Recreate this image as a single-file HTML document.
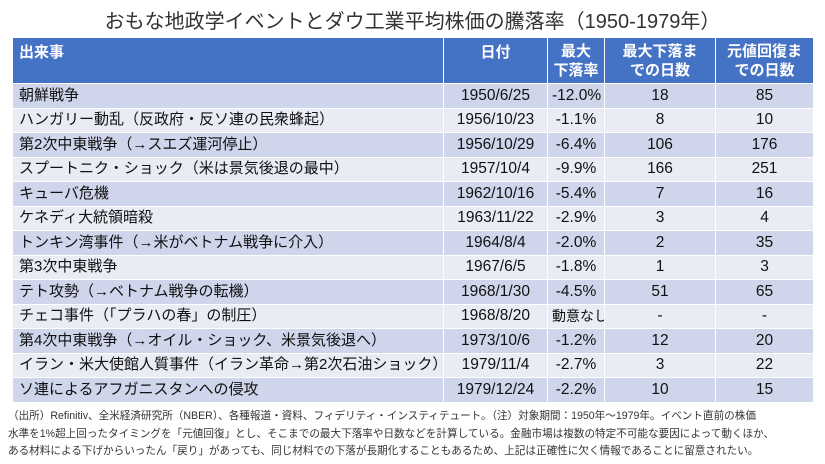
<!DOCTYPE html>
<html><head><meta charset="utf-8"><style>
body{margin:0;background:#fff;width:825px;height:464px;overflow:hidden;font-family:"Liberation Sans","Noto Sans CJK JP",sans-serif;}
.title{position:absolute;top:5px;left:0;width:825px;text-align:center;font-size:20px;color:#333;}
table{position:absolute;top:37px;left:12px;width:801px;border-collapse:collapse;table-layout:fixed;}
td,th{border:1.5px solid #fff;padding:0 4px;font-size:15.5px;color:#111;white-space:nowrap;overflow:hidden;box-sizing:border-box;}
th{background:#4472c4;color:#fff;font-weight:bold;height:46px;text-align:center;line-height:19px;font-size:15px;}
th.l{text-align:left;vertical-align:top;padding-top:5px;padding-left:6px;}
th.d{vertical-align:top;padding-top:5px;}
tr.r{height:24.5px;}
td{height:24.5px;text-align:center;line-height:20px;}
td.l{text-align:left;padding-left:6px;font-size:15px;}
tr:nth-child(even) td{background:#cfd5ea;}
tr:nth-child(odd) td{background:#e9ebf5;}
.note{position:absolute;left:8px;top:408px;width:815px;font-size:10.6px;line-height:17.5px;color:#333;white-space:nowrap;}
</style></head><body>
<div class="title">おもな地政学イベントとダウ工業平均株価の騰落率（1950-1979年）</div>
<table>
<colgroup><col style="width:431px"><col style="width:104px"><col style="width:57px"><col style="width:111px"><col style="width:98px"></colgroup>
<tr><th class="l">出来事</th><th class="d">日付</th><th>最大<br>下落率</th><th>最大下落ま<br>での日数</th><th>元値回復ま<br>での日数</th></tr>
<tr class="r"><td class="l">朝鮮戦争</td><td>1950/6/25</td><td>-12.0%</td><td>18</td><td>85</td></tr>
<tr class="r"><td class="l">ハンガリー動乱（反政府・反ソ連の民衆蜂起）</td><td>1956/10/23</td><td>-1.1%</td><td>8</td><td>10</td></tr>
<tr class="r"><td class="l">第2次中東戦争（→スエズ運河停止）</td><td>1956/10/29</td><td>-6.4%</td><td>106</td><td>176</td></tr>
<tr class="r"><td class="l">スプートニク・ショック（米は景気後退の最中）</td><td>1957/10/4</td><td>-9.9%</td><td>166</td><td>251</td></tr>
<tr class="r"><td class="l">キューバ危機</td><td>1962/10/16</td><td>-5.4%</td><td>7</td><td>16</td></tr>
<tr class="r"><td class="l">ケネディ大統領暗殺</td><td>1963/11/22</td><td>-2.9%</td><td>3</td><td>4</td></tr>
<tr class="r"><td class="l">トンキン湾事件（→米がベトナム戦争に介入）</td><td>1964/8/4</td><td>-2.0%</td><td>2</td><td>35</td></tr>
<tr class="r"><td class="l">第3次中東戦争</td><td>1967/6/5</td><td>-1.8%</td><td>1</td><td>3</td></tr>
<tr class="r"><td class="l">テト攻勢（→ベトナム戦争の転機）</td><td>1968/1/30</td><td>-4.5%</td><td>51</td><td>65</td></tr>
<tr class="r"><td class="l">チェコ事件（「プラハの春」の制圧）</td><td>1968/8/20</td><td style="font-size:14px">動意なし</td><td>-</td><td>-</td></tr>
<tr class="r"><td class="l">第4次中東戦争（→オイル・ショック、米景気後退へ）</td><td>1973/10/6</td><td>-1.2%</td><td>12</td><td>20</td></tr>
<tr class="r"><td class="l">イラン・米大使館人質事件（イラン革命→第2次石油ショック）</td><td>1979/11/4</td><td>-2.7%</td><td>3</td><td>22</td></tr>
<tr class="r"><td class="l">ソ連によるアフガニスタンへの侵攻</td><td>1979/12/24</td><td>-2.2%</td><td>10</td><td>15</td></tr>
</table>
<div class="note">（出所）Refinitiv、全米経済研究所（NBER）、各種報道・資料、フィデリティ・インスティテュート。（注）対象期間：1950年～1979年。イベント直前の株価<br>水準を1%超上回ったタイミングを「元値回復」とし、そこまでの最大下落率や日数などを計算している。金融市場は複数の特定不可能な要因によって動くほか、<br>ある材料による下げからいったん「戻り」があっても、同じ材料での下落が長期化することもあるため、上記は正確性に欠く情報であることに留意されたい。</div>
</body></html>
